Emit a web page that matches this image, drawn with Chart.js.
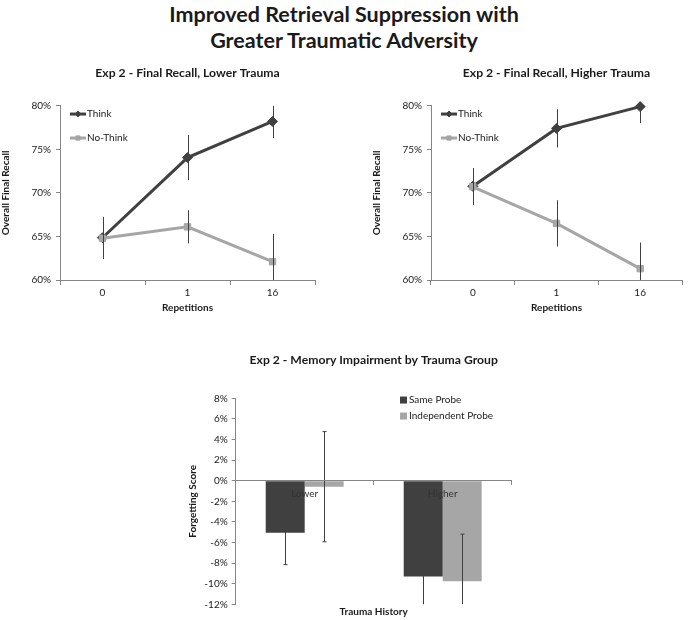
<!DOCTYPE html>
<html>
<head>
<meta charset="utf-8">
<script src="https://cdn.jsdelivr.net/npm/chart.js@4.4.0/dist/chart.umd.min.js"></script>
<style>
body { margin: 0; background: #fff; width: 688px; height: 620px; overflow: hidden; position: relative; font-family: Lato, sans-serif; }
#titol { position: absolute; left: 0; top: 1px; width: 688px; text-align: center; font-weight: bold; font-size: 21.5px; line-height: 26px; color: #1a1a1a; }
.caixa { position: absolute; }
</style>
</head>
<body>
<div id="titol">Improved Retrieval Suppression with<br>Greater Traumatic Adversity</div>
<div class="caixa" style="left:0;top:60px"><canvas id="lower" width="344" height="262"></canvas></div>
<div class="caixa" style="left:371px;top:60px"><canvas id="higher" width="317" height="262"></canvas></div>
<div class="caixa" style="left:180px;top:325px"><canvas id="barres" width="350" height="295"></canvas></div>
<script>
// Eix X dels gràfics de línies
let repeticions = ['0', '1', '16'];

// Trauma baix (%)
let thinkLower = [64.85, 74.05, 78.2];
let thinkLowerErr = [2.4, 2.6, 1.9];
let noThinkLower = [64.8, 66.1, 62.1];
let noThinkLowerErr = [2.4, 1.9, 3.2];

// Trauma alt (%)
let thinkHigher = [70.75, 77.4, 79.9];
let thinkHigherErr = [2.1, 2.2, 1.9];
let noThinkHigher = [70.7, 66.5, 61.3];
let noThinkHigherErr = [2.1, 2.65, 3.0];

// Gràfic de barres (forgetting score, %)
let grups = ['Lower', 'Higher'];
let sameProbe = [-5.05, -9.29];
let sameProbeErr = [3.1, 3.46];
let indepProbe = [-0.58, -9.75];
let indepProbeErr = [5.35, 4.57];

const fosc = '#404040';
const clar = '#a6a6a6';
const eixos = '#868686';
const text = '#1a1a1a';

/* Plugin que dibuixa les barres d'error de cada dataset */
const errorsPlugin = {
	id: 'errors',
	afterDatasetsDraw(chart, args, opts) {
		const ctx = chart.ctx;
		const area = chart.chartArea;
		const y = chart.scales.y;
		ctx.save();
		ctx.beginPath();
		ctx.rect(area.left, area.top, area.right - area.left, area.bottom - area.top);
		ctx.clip();
		ctx.strokeStyle = opts.color;
		ctx.lineWidth = 1;
		chart.data.datasets.forEach((ds, i) => {
			let meta = chart.getDatasetMeta(i);
			meta.data.forEach((el, j) => {
				let x = Math.round(el.x) + 0.5;
				let dalt = y.getPixelForValue(ds.data[j] + ds.errors[j]);
				let baix = y.getPixelForValue(ds.data[j] - ds.errors[j]);
				ctx.beginPath();
				ctx.moveTo(x, dalt);
				ctx.lineTo(x, baix);
				if (opts.cap) {
					ctx.moveTo(x - opts.cap, dalt); ctx.lineTo(x + opts.cap, dalt);
					ctx.moveTo(x - opts.cap, baix); ctx.lineTo(x + opts.cap, baix);
				}
				ctx.stroke();
			});
		});
		ctx.restore();
	}
};

/* Plugin de llegenda dins l'àrea del gràfic (com Excel) */
const llegendaPlugin = {
	id: 'llegenda',
	afterDraw(chart, args, opts) {
		const ctx = chart.ctx;
		const area = chart.chartArea;
		ctx.save();
		ctx.font = opts.size + 'px Lato';
		ctx.textBaseline = 'middle';
		chart.data.datasets.forEach((ds, i) => {
			let x = area.left + opts.x;
			let y = area.top + opts.y + i * opts.gap;
			let color = ds.borderColor || ds.backgroundColor;
			if (opts.tipus == 'linia') {
				ctx.strokeStyle = color;
				ctx.lineWidth = 3;
				ctx.beginPath(); ctx.moveTo(x, y); ctx.lineTo(x + 16, y); ctx.stroke();
				ctx.fillStyle = color;
				ctx.lineWidth = 1;
				Chart.helpers.drawPoint(ctx, { pointStyle: ds.pointStyle, radius: 3, borderWidth: 1, rotation: 0 }, x + 8, y);
				ctx.fillStyle = text;
				ctx.fillText(ds.label, x + 17, y);
			} else {
				ctx.fillStyle = ds.backgroundColor;
				ctx.fillRect(x, y - 3.5, 7, 7);
				ctx.fillStyle = text;
				ctx.fillText(ds.label, x + 9, y);
			}
		});
		ctx.restore();
	}
};

Chart.register(errorsPlugin, llegendaPlugin);
Chart.defaults.font.family = 'Lato';
Chart.defaults.color = text;

/* Funció que crea un gràfic de línies Think / No-Think */
function graficLinia(id, titol, think, thinkErr, noThink, noThinkErr, padDreta) {
	return new Chart(document.getElementById(id), {
		type: 'line',
		data: {
			labels: repeticions,
			datasets: [{
				label: 'Think', data: think, errors: thinkErr, order: 2, clip: false,
				borderColor: fosc, backgroundColor: fosc, borderWidth: 3,
				pointStyle: 'rectRot', pointRadius: 5, pointHoverRadius: 5, pointBorderWidth: 1
			}, {
				label: 'No-Think', data: noThink, errors: noThinkErr, order: 1, clip: false,
				borderColor: clar, backgroundColor: clar, borderWidth: 3,
				pointStyle: 'rect', pointRadius: 4.5, pointHoverRadius: 4.5, pointBorderWidth: 1
			}]
		},
		options: {
			responsive: false,
			animation: false,
			layout: { padding: { left: 0, right: padDreta, top: 0, bottom: 0 } },
			plugins: {
				legend: { display: false },
				tooltip: { enabled: false },
				title: {
					display: true, text: titol, fullSize: false, color: text,
					font: { size: 12.2, weight: 'bold' }, padding: { top: 5.7, bottom: 25.4 }
				},
				errors: { color: fosc, cap: 0 },
				llegenda: { tipus: 'linia', x: 10, y: 8.3, gap: 24, size: 10 }
			},
			scales: {
				x: {
					offset: true,
					grid: { offset: true, drawOnChartArea: false, tickLength: 5, color: eixos },
					border: { color: eixos },
					ticks: { font: { size: 10 }, padding: 2 },
					title: { display: true, text: 'Repetitions', font: { size: 10, weight: 'bold' }, padding: { top: 4, bottom: 8 } },
					afterFit(s) { s.height = 42; }
				},
				y: {
					min: 60, max: 80,
					grid: { drawOnChartArea: false, tickLength: 4, color: eixos },
					border: { color: eixos },
					ticks: { stepSize: 5, font: { size: 10 }, padding: 5, callback: v => v + '%' },
					title: { display: true, text: 'Overall Final Recall', font: { size: 10, weight: 'bold' }, padding: { top: 0, bottom: 0 } },
					afterFit(s) { s.width = 60; }
				}
			}
		}
	});
}

graficLinia('lower', 'Exp 2 - Final Recall, Lower Trauma', thinkLower, thinkLowerErr, noThinkLower, noThinkLowerErr, 29);
graficLinia('higher', 'Exp 2 - Final Recall, Higher Trauma', thinkHigher, thinkHigherErr, noThinkHigher, noThinkHigherErr, 2.3);

// Gràfic de barres
new Chart(document.getElementById('barres'), {
	type: 'bar',
	data: {
		labels: grups,
		datasets: [{
			label: 'Same Probe', data: sameProbe, errors: sameProbeErr, backgroundColor: fosc
		}, {
			label: 'Independent Probe', data: indepProbe, errors: indepProbeErr, backgroundColor: clar
		}]
	},
	options: {
		responsive: false,
		animation: false,
		categoryPercentage: 0.565,
		barPercentage: 1,
		layout: { padding: { left: 0, right: 18.3, top: 0, bottom: 0 } },
		plugins: {
			legend: { display: false },
			tooltip: { enabled: false },
			title: {
				display: true, text: 'Exp 2 - Memory Impairment by Trauma Group', fullSize: false, color: text,
				font: { size: 12.2, weight: 'bold' }, padding: { top: 27.7, bottom: 31 }
			},
			errors: { color: fosc, cap: 2 },
			llegenda: { tipus: 'barra', x: 164.3, y: 1.7, gap: 16, size: 10 }
		},
		scales: {
			x: {
				position: { y: 0 },
				grid: { offset: true, drawOnChartArea: false, tickLength: 4, color: eixos },
				border: { color: eixos, z: 1 },
				ticks: { font: { size: 10 }, padding: 3, color: '#333', z: 1 }
			},
			x2: {
				type: 'category', labels: grups, position: 'bottom',
				ticks: { display: false },
				grid: { display: false },
				border: { display: false },
				title: { display: true, text: 'Trauma History', font: { size: 10, weight: 'bold' }, padding: { top: 0, bottom: 2 } },
				afterFit(s) { s.height = 15.7; }
			},
			y: {
				min: -12, max: 8,
				grid: { drawOnChartArea: false, tickLength: 4, color: eixos },
				border: { color: eixos },
				ticks: { stepSize: 2, font: { size: 10 }, padding: 4, callback: v => v + '%' },
				title: { display: true, text: 'Forgetting Score', font: { size: 10, weight: 'bold' }, padding: { top: 7, bottom: 0 } },
				afterFit(s) { s.width = 55.7; }
			}
		}
	}
});
</script>
</body>
</html>
